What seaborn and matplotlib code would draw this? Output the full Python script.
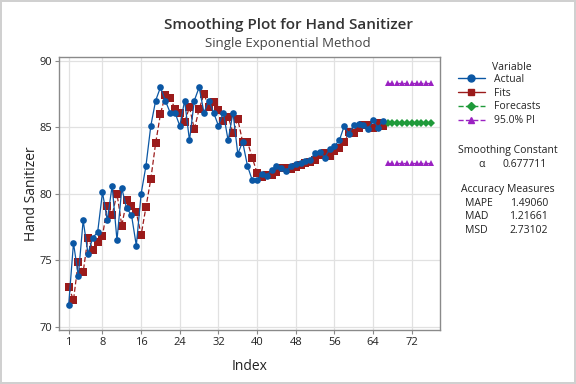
import numpy as np
import pandas as pd
import seaborn as sns
import matplotlib.pyplot as plt
from matplotlib.lines import Line2D

# values
actual = [71.6, 76.3, 73.8, 78.0, 75.5, 76.7, 77.1, 80.1, 78.0, 80.6,
          76.5, 80.4, 78.9, 78.4, 76.1, 80.0, 82.1, 85.1, 87.0, 88.0,
          87.0, 86.1, 86.1, 85.1, 87.0, 84.0, 87.0, 88.0, 86.1, 87.0,
          86.1, 85.1, 86.1, 84.0, 86.1, 83.0, 83.9, 82.1, 81.0, 81.0,
          81.5, 81.35, 81.8, 82.1, 81.95, 81.7, 82.1, 82.2, 82.3, 82.45,
          82.57, 83.05, 83.15, 82.72, 83.35, 83.6, 84.0, 85.07, 84.5, 85.17,
          85.27, 85.17, 84.87, 85.52, 84.97, 85.47]
fits = [73.0, 72.0, 74.9, 74.1, 76.7, 75.8, 76.4, 76.8, 79.1, 78.4,
        80.0, 77.6, 79.5, 79.1, 78.6, 76.9, 79.0, 81.1, 83.8, 86.0,
        87.4, 87.2, 86.4, 86.1, 85.4, 86.5, 84.85, 86.35, 87.5, 86.5,
        86.9, 86.3, 85.45, 85.8, 84.6, 85.6, 83.9, 83.9, 82.7, 81.55,
        81.25, 81.4, 81.4, 81.6, 81.95, 81.95, 81.85, 82.04, 82.15, 82.3,
        82.42, 82.55, 82.9, 83.05, 82.82, 83.22, 83.45, 83.87, 84.62, 84.55,
        84.95, 85.17, 85.17, 84.92, 85.35, 85.1]
fc_index = [67, 68, 69, 70, 71, 72, 73, 74, 75, 76]
forecast = [85.3, 85.3, 85.3, 85.3, 85.3, 85.3, 85.3, 85.3, 85.3, 85.3]
upper_pi = [88.3, 88.3, 88.3, 88.3, 88.3, 88.3, 88.3, 88.3, 88.3, 88.3]
lower_pi = [82.3, 82.3, 82.3, 82.3, 82.3, 82.3, 82.3, 82.3, 82.3, 82.3]
xticks = [1, 8, 16, 24, 32, 40, 48, 56, 64, 72]
yticks = [70, 75, 80, 85, 90]

alpha = "0.677711"
mape, mad, msd = "1.49060", "1.21661", "2.73102"

idx = list(range(1, len(actual) + 1))
df = pd.DataFrame({"Index": idx, "Actual": actual, "Fits": fits})
dfc = pd.DataFrame({"Index": fc_index, "Forecast": forecast,
                    "Upper": upper_pi, "Lower": lower_pi})

sns.set_style("whitegrid")
plt.rcParams['font.family'] = ['Open Sans', 'DejaVu Sans']

c_act = "#0b57a4"
c_fit = "#9b1b1b"
c_fc = "#1f9a3a"
c_pi = "#9b22c2"

fig = plt.figure(figsize=(5.76, 3.84), dpi=100)
fig.patch.set_edgecolor("#d0d0d0")
fig.patch.set_linewidth(1.5)
ax = fig.add_axes([0.1024, 0.1406, 0.662, 0.7117])

sns.lineplot(data=df, x="Index", y="Fits", ax=ax, color=c_fit, lw=0.9,
             linestyle=(0, (4, 2)), marker="s", markersize=5.2,
             markeredgewidth=0, zorder=3)
sns.lineplot(data=df, x="Index", y="Actual", ax=ax, color=c_act, lw=0.9,
             marker="o", markersize=4.8, markeredgewidth=0, zorder=4)
sns.lineplot(data=dfc, x="Index", y="Forecast", ax=ax, color=c_fc, lw=0.9,
             linestyle=(0, (4, 2)), marker="D", markersize=4.5,
             markeredgewidth=0, zorder=3)
for col in ["Upper", "Lower"]:
    sns.lineplot(data=dfc, x="Index", y=col, ax=ax, color=c_pi, lw=0.9,
                 linestyle=(0, (4, 2)), marker="^", markersize=5,
                 markeredgewidth=0, zorder=3)

ax.set_xlim(-1.0, 77.9)
ax.set_ylim(69.75, 90.3)
ax.set_xticks(xticks)
ax.set_yticks(yticks)
ax.grid(True, color="#e1e1e1", lw=0.9)
for s in ax.spines.values():
    s.set_color("#8a8a8a")
    s.set_linewidth(1.0)
ax.tick_params(axis="both", length=3, width=0.8, color="#8a8a8a",
               labelsize=8, labelcolor="#222222", pad=2)
ax.tick_params(bottom=True, left=True)
ax.set_xlabel("Index", fontsize=10, color="#222222", labelpad=8)
ax.set_ylabel("Hand Sanitizer", fontsize=10, color="#222222", labelpad=0)

fig.text(0.5, 0.934, "Smoothing Plot for Hand Sanitizer", ha="center",
         va="center", fontsize=11, fontweight="semibold", color="#333333")
fig.text(0.5, 0.888, "Single Exponential Method", ha="center", va="center",
         fontsize=9.5, color="#444444")

# legend on the right
tc = "#222222"
fig.text(0.888, 0.823, "Variable", ha="center", va="center",
         fontsize=7.5, color=tc)
handles = [
    Line2D([], [], color=c_act, lw=1, marker="o", markersize=5),
    Line2D([], [], color=c_fit, lw=1, marker="s", markersize=5),
    Line2D([], [], color=c_fc, lw=1, ls="--", marker="D", markersize=4.5),
    Line2D([], [], color=c_pi, lw=1, ls="--", marker="^", markersize=5),
]
leg = fig.legend(handles, ["Actual", "Fits", "Forecasts", "95.0% PI"],
                 loc="upper left", bbox_to_anchor=(0.7946, 0.808),
                 frameon=False, fontsize=7.5, handlelength=2.6,
                 handletextpad=0.85, labelspacing=0.27, borderpad=0,
                 borderaxespad=0)

fig.text(0.882, 0.607, "Smoothing Constant", ha="center", va="center",
         fontsize=7.5, color=tc)
fig.text(0.836, 0.571, "\u03b1", ha="center", va="center", fontsize=7.5,
         color=tc)
fig.text(0.872, 0.571, alpha, ha="left", va="center", fontsize=7.5, color=tc)
fig.text(0.882, 0.506, "Accuracy Measures", ha="center", va="center",
         fontsize=7.5, color=tc)
for i, (name, val) in enumerate([("MAPE", mape), ("MAD", mad), ("MSD", msd)]):
    y = 0.471 - i * 0.0357
    fig.text(0.807, y, name, ha="left", va="center", fontsize=7.5, color=tc)
    fig.text(0.951, y, val, ha="right", va="center", fontsize=7.5, color=tc)

fig.savefig("out.png", dpi=100)
